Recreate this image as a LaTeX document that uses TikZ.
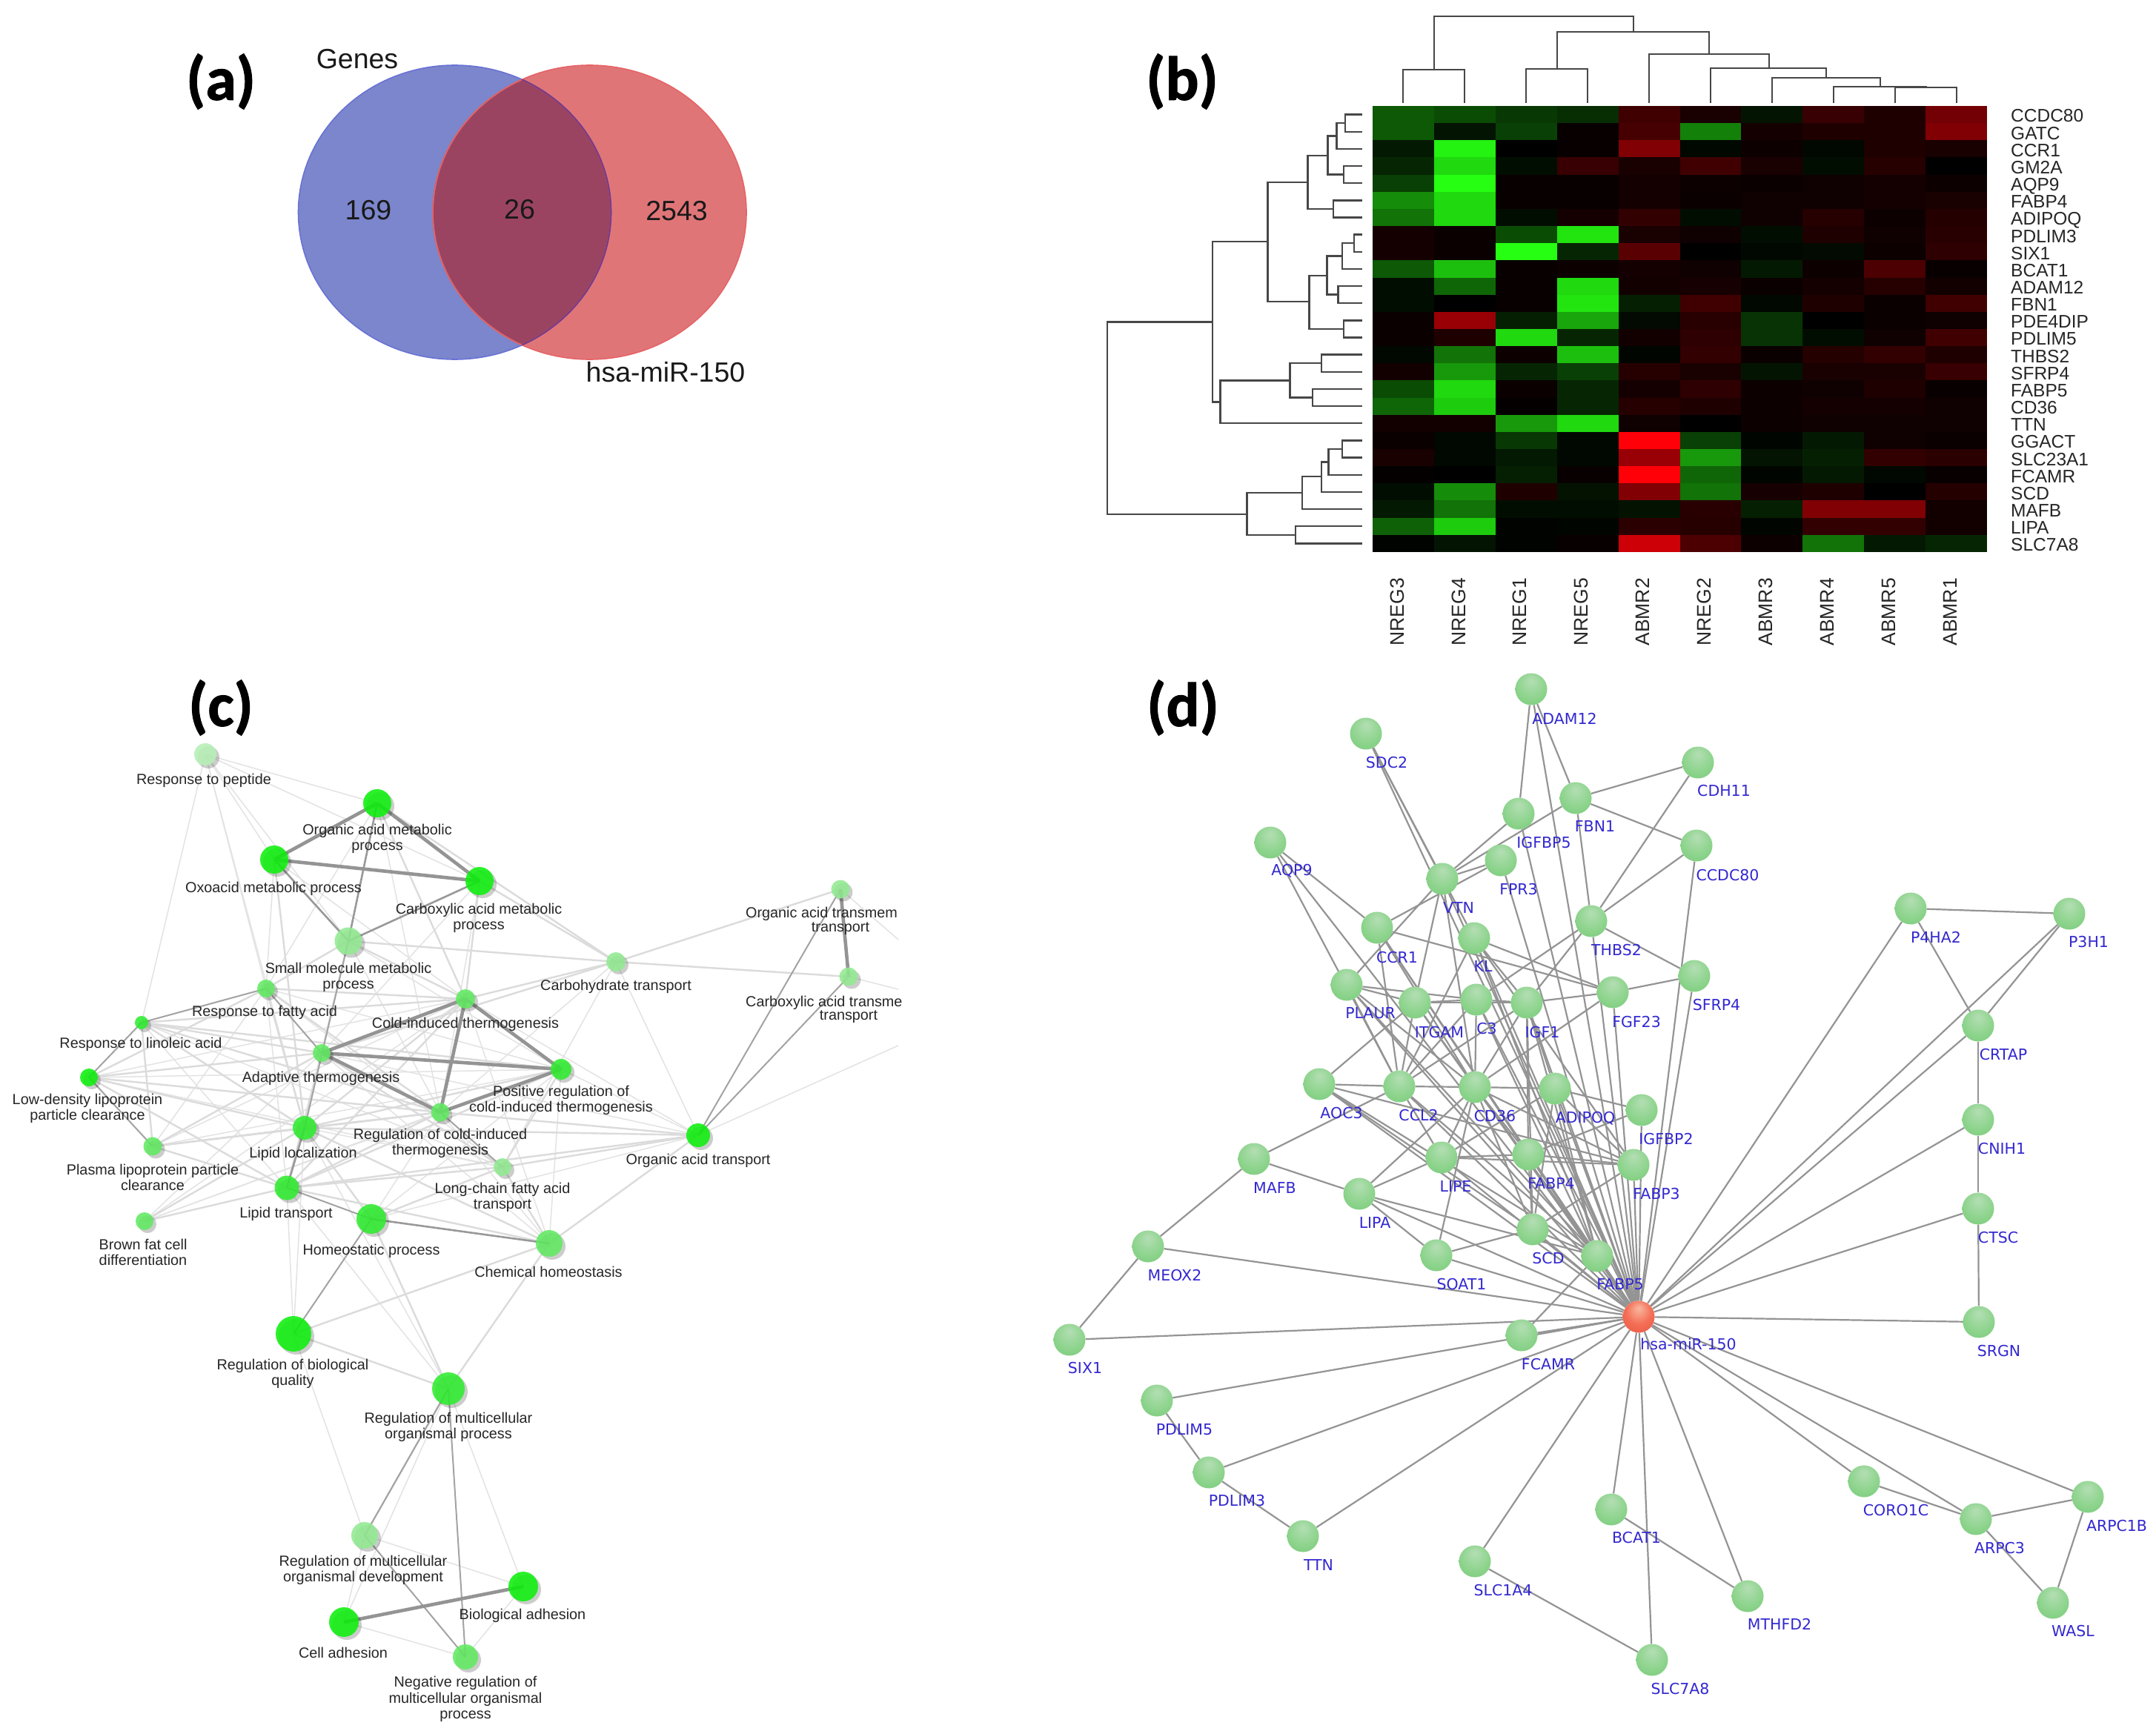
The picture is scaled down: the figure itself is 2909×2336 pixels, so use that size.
\documentclass[tikz,border=0pt]{standalone}
\usepackage{fontspec}
\setmainfont{Liberation Sans}
\newfontfamily\carl{Carlito}[BoldFeatures={FakeBold=1.2}]
\newfontfamily\djv{DejaVu Sans}
\usetikzlibrary{shadows}
\pgfdeclarelayer{bg}
\pgfsetlayers{bg,main}
\definecolor{gA}{HTML}{0EF00E}
\definecolor{gB}{HTML}{30EC30}
\definecolor{gC}{HTML}{62EA62}
\definecolor{gD}{HTML}{92EA92}
\definecolor{gE}{HTML}{B6F0B6}
\definecolor{labelblue}{HTML}{3328D0}
\definecolor{hgreen}{HTML}{26FF12}
\definecolor{hred}{HTML}{FF0008}
\definecolor{bA}{HTML}{B4DEB4}
\definecolor{bB}{HTML}{8ED48E}
\definecolor{bC}{HTML}{74C874}
\definecolor{bD}{HTML}{62B462}
\definecolor{rA}{HTML}{F8B8A0}
\definecolor{rB}{HTML}{F46E55}
\definecolor{rC}{HTML}{E04A3A}
\pgfdeclareradialshading{gball}{\pgfpoint{0bp}{14bp}}{color(0bp)=(bA); color(22bp)=(bB); color(42bp)=(bC); color(50bp)=(bD)}
\pgfdeclareradialshading{rball}{\pgfpoint{0bp}{14bp}}{color(0bp)=(rA); color(20bp)=(rB); color(50bp)=(rC)}
\tikzset{
  ball/.style={circle,inner sep=0pt,minimum size=43pt,shading=gball},
  redball/.style={circle,inner sep=0pt,minimum size=43pt,shading=rball},
  glabel/.style={inner sep=0pt,text=labelblue,font=\djv\fontsize{20.5}{22}\selectfont},
  dedge/.style={draw=black!42,line width=2.2pt},
  cball/.style={circle,inner sep=0pt,fill opacity=.88,drop shadow={shadow xshift=4pt,shadow yshift=-4pt,opacity=.2,fill=black}},
  clabel/.style={inner sep=0pt,align=center,text=black!85,font=\fontsize{19.8}{21.5}\selectfont},
  cfaint/.style={draw=black!11,line width=1.5pt},
  clight/.style={draw=black!14,line width=2.4pt},
  cthin/.style={draw=black!36,line width=2pt},
  cmed/.style={draw=black!40,line width=2.6pt},
  cstrong/.style={draw=black!42,line width=4.6pt},
  dend/.style={draw=black!72,line width=2.4pt},
  collabel/.style={inner sep=0pt,rotate=90,anchor=east,text=black!85,font=\fontsize{26.5}{28}\selectfont},
  rowlabel/.style={inner sep=0pt,anchor=base west,text=black!85,font=\fontsize{24.5}{26}\selectfont},
  vennlabel/.style={inner sep=0pt,text=black!90,font=\fontsize{37.5}{40}\selectfont},
  panel/.style={inner sep=0pt,font=\carl\bfseries\fontsize{84}{90}\selectfont},
}
\newcommand{\gn}[5]{\node[ball] (#1) at (#2,#3) {}; \node[glabel] (#1-l) at (#4,#5) {#1};}
\newcommand{\cn}[8]{\node[cball,minimum size=#4pt,fill=#5] (#1) at (#2,#3) {}; \node[clabel] (#1-l) at (#6,#7) {#8};}
\newcommand{\br}[5]{\draw[dend] (#2,#3) -- (#1,#3) -- (#1,#5) -- (#4,#5);}
\begin{document}
\begin{tikzpicture}[x=1pt,y=-1pt]
\useasboundingbox (0,0) rectangle (2909,2336);
\begin{pgfonlayer}{bg}
\fill[white] (0,0) rectangle (2909,2336);
\end{pgfonlayer}
% panel labels
\node[panel] (pa) at (298,110) {(a)};
\node[panel] (pb) at (1595,110) {(b)};
\node[panel] (pc) at (298,955) {(c)};
\node[panel] (pd) at (1596,955) {(d)};
% ---------- (a)
\definecolor{vb}{HTML}{7B86CC}\definecolor{vr}{HTML}{E07578}\definecolor{vo}{HTML}{9B4462}
\fill[vb] (613.5,286.5) ellipse [x radius=211,y radius=198.5];
\fill[vr] (795.5,286.5) ellipse [x radius=211.5,y radius=198.5];
\begin{scope}
\clip (613.5,286.5) ellipse [x radius=211,y radius=198.5];
\fill[vo] (795.5,286.5) ellipse [x radius=211.5,y radius=198.5];
\draw[line width=1.6pt,draw=vr!85!black] (795.5,286.5) ellipse [x radius=211.5,y radius=198.5];
\end{scope}
\draw[line width=1.6pt,draw=vb!85!blue] (613.5,286.5) ellipse [x radius=211,y radius=198.5];
\draw[line width=1.6pt,draw=vr!85!red] (795.5,286.5) ellipse [x radius=211.5,y radius=198.5];
\begin{scope}
\clip (795.5,286.5) ellipse [x radius=211.5,y radius=198.5];
\draw[line width=1.6pt,draw=vo!80!blue] (613.5,286.5) ellipse [x radius=211,y radius=198.5];
\end{scope}
\node[vennlabel] (genes) at (482,80) {Genes};
\node[vennlabel] (n169) at (497,284) {169};
\node[vennlabel] (n26) at (701,283) {26};
\node[vennlabel] (n2543) at (913,285) {2543};
\node[vennlabel] (mirl) at (898,502) {hsa-miR-150};
% ---------- (b) heat map
\foreach \rowvals [count=\r from 0] in {
 {35,30,22,18,-25,-10,8,-22,-12,-45},
 {35,8,25,-3,-28,50,-8,-12,-12,-50},
 {10,95,0,-3,-50,3,-5,3,-12,-10},
 {15,85,5,-22,-10,-25,-10,5,-15,0},
 {25,100,-3,-3,-8,-5,-4,-6,-8,-5},
 {55,85,-3,-3,-8,-4,-6,-6,-8,-10},
 {45,85,5,-8,-20,5,-6,-15,-5,-14},
 {-8,-4,30,90,-10,-6,5,-12,-6,-16},
 {-8,-4,100,15,-35,0,3,4,-5,-18},
 {35,75,-3,-5,-8,-6,10,-5,-30,-3},
 {5,40,-3,85,-7,-9,-4,-8,-15,-7},
 {5,0,-3,90,12,-25,3,-12,-4,-25},
 {-4,-60,12,65,4,-16,20,0,-4,-6},
 {-4,-12,85,15,-7,-18,20,5,-6,-25},
 {3,45,-5,75,2,-20,-4,-14,-20,-12},
 {-7,60,15,25,-15,-10,8,-10,-10,-22},
 {30,85,-4,15,-8,-18,-5,-6,-12,-3},
 {40,80,-2,15,-15,-12,-5,-8,-8,-6},
 {-7,-7,60,85,-6,0,-5,-6,-6,-6},
 {-4,3,22,3,-100,25,2,10,-6,-4},
 {-10,3,10,3,-60,60,8,12,-20,-17},
 {-2,0,12,-3,-100,40,2,10,3,-3},
 {5,55,-12,7,-50,45,-9,-12,0,-14},
 {10,45,5,5,7,-16,12,-50,-50,-7},
 {38,80,1,2,-17,-15,2,-20,-20,-7},
 {1,8,1,-3,-80,-30,-5,45,10,15}} {
  \foreach \v [count=\c from 0] in \rowvals {
    \pgfmathtruncatemacro\aval{abs(\v)}
    \ifnum\v<0 \colorlet{cellc}{hred!\aval!black}\else \colorlet{cellc}{hgreen!\aval!black}\fi
    \fill[cellc] ({1852+82.9*\c},{143+23.15*\r}) rectangle +(83.2,23.5);
  }
}
% top dendrogram
\draw[dend] (1893,139)--(1893,94)--(1976,94)--(1976,139);
\draw[dend] (2059,139)--(2059,93)--(2142,93)--(2142,139);
\draw[dend] (1935,94)--(1935,22)--(2204,22)--(2204,43);
\draw[dend] (2101,93)--(2101,43)--(2306,43)--(2306,73);
\draw[dend] (2225,139)--(2225,73)--(2387,73)--(2387,92);
\draw[dend] (2308,139)--(2308,92)--(2464,92)--(2464,105);
\draw[dend] (2391,139)--(2391,105)--(2537,105)--(2537,117);
\draw[dend] (2474,139)--(2474,117)--(2599,117)--(2599,118);
\draw[dend] (2557,139)--(2557,118)--(2640,118)--(2640,139);
% left dendrogram
\begin{scope}[shift={(1450,154.575)},x=0.9305pt,y=-23.15pt]
\br{392}{417}{0}{417}{1}
\br{380}{392}{.5}{417}{2}
\br{390}{417}{3}{417}{4}
\br{367}{380}{1.25}{390}{3.5}
\br{375}{417}{5}{417}{6}
\br{338}{367}{2.4}{375}{5.5}
\br{405}{417}{7}{417}{8}
\br{388}{405}{7.5}{417}{9}
\br{382}{417}{10}{417}{11}
\br{366}{388}{8.25}{382}{10.5}
\br{390}{417}{12}{417}{13}
\br{340}{366}{9.4}{390}{12.5}
\br{280}{338}{3.95}{340}{10.9}
\br{358}{417}{14}{417}{15}
\br{345}{417}{16}{417}{17}
\br{312}{358}{14.5}{345}{16.5}
\br{211}{312}{15.5}{417}{18}
\br{200}{280}{7.4}{211}{16.75}
\br{388}{417}{19}{417}{20}
\br{368}{388}{19.5}{417}{21}
\br{358}{368}{20.25}{417}{22}
\br{330}{358}{21.1}{417}{23}
\br{320}{417}{24}{417}{25}
\br{250}{330}{22.05}{320}{24.5}
\br{47}{200}{12.1}{250}{23.3}
\end{scope}
% labels
\foreach \t [count=\i from 0] in {NREG3,NREG4,NREG1,NREG5,ABMR2,NREG2,ABMR3,ABMR4,ABMR5,ABMR1}
  \node[collabel] (col\i) at ({1885+82.9*\i},780) {\t};
\foreach \t [count=\i from 0] in {CCDC80,GATC,CCR1,GM2A,AQP9,FABP4,ADIPOQ,PDLIM3,SIX1,BCAT1,ADAM12,FBN1,PDE4DIP,PDLIM5,THBS2,SFRP4,FABP5,CD36,TTN,GGACT,SLC23A1,FCAMR,SCD,MAFB,LIPA,SLC7A8}
  \node[rowlabel] (row\i) at (2713,{165+23.15*\i}) {\t};
% ---------- (c)
\cn{pep}{277}{1018}{30}{gE}{275}{1053}{Response to peptide}
\cn{oam}{509}{1084}{38}{gA}{509}{1132}{Organic acid metabolic\\process}
\cn{oxo}{370}{1160}{38}{gA}{369}{1199}{Oxoacid metabolic process}
\cn{cam}{647}{1189}{38}{gA}{646}{1239}{Carboxylic acid metabolic\\process}
\cn{smm}{470}{1270}{37}{gD}{470}{1319}{Small molecule metabolic\\process}
\cn{cht}{831}{1298}{26}{gD}{831}{1331}{Carbohydrate transport}
\node[cball,minimum size=25pt,fill=gD] (oat) at (1134,1200) {};
\node[cball,minimum size=25pt,fill=gD] (cat) at (1145,1318) {};
\node[clabel,anchor=west] (oat-a) at (1006,1233) {Organic acid transmem};
\node[clabel] (oat-b) at (1134,1253) {transport};
\node[clabel,anchor=west] (cat-a) at (1006,1353) {Carboxylic acid transme};
\node[clabel] (cat-b) at (1145,1372) {transport};
\cn{rfa}{359}{1334}{24}{gC}{357}{1366}{Response to fatty acid}
\cn{cit}{628}{1348}{26}{gC}{628}{1382}{Cold-induced thermogenesis}
\cn{rla}{191}{1380}{18}{gB}{190}{1409}{Response to linoleic acid}
\cn{adt}{434}{1421}{24}{gC}{433}{1455}{Adaptive thermogenesis}
\cn{pos}{757}{1443}{28}{gB}{757}{1485}{Positive regulation of\\cold-induced thermogenesis}
\cn{ldl}{120}{1454}{24}{gA}{118}{1496}{Low-density lipoprotein\\particle clearance}
\cn{rcl}{594}{1501}{25}{gC}{594}{1543}{Regulation of cold-induced\\thermogenesis}
\cn{lil}{411}{1522}{32}{gB}{409}{1557}{Lipid localization}
\cn{ppc}{206}{1547}{25}{gC}{206}{1589}{Plasma lipoprotein particle\\clearance}
\cn{oatr}{942}{1532}{32}{gA}{942}{1566}{Organic acid transport}
\cn{lcf}{678}{1575}{24}{gD}{678}{1616}{Long-chain fatty acid\\transport}
\cn{ltr}{387}{1603}{33}{gB}{386}{1638}{Lipid transport}
\cn{bfc}{195}{1648}{24}{gC}{193}{1690}{Brown fat cell\\differentiation}
\cn{hom}{501}{1645}{40}{gB}{501}{1688}{Homeostatic process}
\cn{che}{741}{1678}{36}{gC}{740}{1716}{Chemical homeostasis}
\cn{rbq}{396}{1800}{48}{gA}{395}{1854}{Regulation of biological\\quality}
\cn{rmp}{605}{1874}{44}{gB}{605}{1926}{Regulation of multicellular\\organismal process}
\cn{rmd}{492}{2072}{36}{gD}{490}{2119}{Regulation of multicellular\\organismal development}
\cn{bad}{706}{2141}{40}{gA}{705}{2180}{Biological adhesion}
\cn{cad}{464}{2189}{40}{gA}{463}{2230}{Cell adhesion}
\cn{neg}{628}{2236}{34}{gC}{628}{2293}{Negative regulation of\\multicellular organismal\\process}
\coordinate (oatout) at (1212,1268);
\coordinate (catout) at (1212,1335);
\coordinate (oatrout) at (1212,1411);
\begin{pgfonlayer}{bg}
\foreach \a/\b in {pep/rla,pep/rfa,pep/lil,pep/oam,pep/oxo,pep/smm,pep/cam,rbq/ltr,rbq/lil,rmd/bad,rmd/cad,cad/neg,bad/neg,rbq/rmd,rmp/bad,rmp/cad,rmp/lil,rmp/ltr,oatr/oatrout,cat/catout,oat/oatout,
 oxo/cit,oam/rfa,oxo/rfa,cam/adt,cam/rcl,oam/rcl,smm/rcl,smm/pos,cht/rcl,cht/oatr,cht/lcf,rfa/pos,rla/lcf,rfa/lcf,ldl/cit,ldl/pos,ldl/lcf,ppc/cit,ppc/pos,bfc/adt,bfc/cit,bfc/pos,bfc/rcl,adt/oatr,cit/oatr,pos/oatr,hom/oatr,lil/lcf,hom/rcl,hom/pos,rla/ltr,rfa/ppc,rfa/ltr,che/cit,che/pos,che/adt,che/lil,che/rcl}
  \draw[cfaint] (\a.center) -- (\b.center);
\foreach \a/\b in {oam/cht,cam/cht,smm/cht,cht/oat,cht/cat,cht/cit,cht/adt,oam/cit,smm/cit,cam/cit,smm/rfa,smm/adt,oxo/lil,
 rfa/cit,rfa/rcl,rfa/lil,rla/cit,rla/adt,rla/pos,rla/rcl,rla/lil,rla/ppc,ldl/rfa,ldl/adt,ldl/rcl,ldl/lil,ldl/ltr,ppc/lil,ppc/rcl,ppc/adt,ppc/ltr,bfc/lil,bfc/ltr,lil/adt,lil/cit,lil/pos,lil/oatr,lil/hom,lil/che,ltr/adt,ltr/cit,ltr/pos,ltr/rcl,ltr/lcf,ltr/che,che/oatr,che/lcf,hom/lcf,lcf/oatr,lcf/pos,lcf/adt,rcl/oatr,rmp/hom,rmp/che,rbq/che,rbq/rmp,rmd/rmp,ltr/oatr,lil/rcl}
  \draw[clight] (\a.center) -- (\b.center);
\foreach \a/\b in {rfa/rla,rfa/adt,ldl/rla,ldl/ppc,oatr/oat,oatr/cat,smm/lil,hom/rbq,rmp/rmd,rmp/neg,rmd/neg,rcl/lcf,ltr/hom}
  \draw[cthin] (\a.center) -- (\b.center);
\foreach \a/\b in {oam/smm,oxo/smm,cam/smm,lil/ltr,hom/che}
  \draw[cmed] (\a.center) -- (\b.center);
\foreach \a/\b in {oam/oxo,oam/cam,oxo/cam,cit/adt,cit/pos,adt/pos,cit/rcl,adt/rcl,pos/rcl,oat/cat,cad/bad}
  \draw[cstrong] (\a.center) -- (\b.center);
\end{pgfonlayer}
% ---------- (d)
\gn{ADAM12}{2066}{930}{2111}{970}
\gn{SDC2}{1843}{990}{1871}{1029}
\gn{AQP9}{1714}{1137}{1743}{1175}
\gn{CDH11}{2291}{1029}{2326}{1067}
\gn{CCDC80}{2289}{1141}{2331}{1181}
\gn{FBN1}{2126}{1077}{2152}{1115}
\gn{IGFBP5}{2049}{1098}{2083}{1137}
\gn{FPR3}{2025}{1161}{2049}{1200}
\gn{VTN}{1946}{1186}{1968}{1225}
\gn{THBS2}{2147}{1243}{2181}{1282}
\gn{CCR1}{1858}{1252}{1885}{1292}
\gn{KL}{1989}{1266}{2001}{1304}
\gn{SFRP4}{2286}{1317}{2316}{1356}
\gn{FGF23}{2176}{1339}{2208}{1379}
\gn{PLAUR}{1817}{1329}{1849}{1367}
\gn{ITGAM}{1909}{1353}{1942}{1393}
\gn{C3}{1992}{1349}{2006}{1388}
\gn{IGF1}{2060}{1353}{2081}{1393}
\gn{AOC3}{1780}{1463}{1810}{1502}
\gn{CCL2}{1888}{1466}{1914}{1505}
\gn{CD36}{1990}{1467}{2017}{1506}
\gn{ADIPOQ}{2098}{1469}{2139}{1509}
\gn{IGFBP2}{2215}{1498}{2248}{1537}
\gn{MAFB}{1692}{1564}{1720}{1603}
\gn{LIPE}{1945}{1562}{1964}{1601}
\gn{FABP4}{2062}{1558}{2093}{1597}
\gn{FABP3}{2204}{1572}{2235}{1611}
\gn{LIPA}{1834}{1611}{1855}{1650}
\gn{SCD}{2068}{1659}{2089}{1698}
\gn{FABP5}{2155}{1695}{2186}{1733}
\gn{SOAT1}{1938}{1694}{1972}{1733}
\gn{MEOX2}{1549}{1682}{1585}{1721}
\gn{SIX1}{1443}{1808}{1464}{1846}
\gn{FCAMR}{2053}{1802}{2089}{1841}
\gn{SRGN}{2670}{1784}{2697}{1823}
\gn{PDLIM5}{1561}{1890}{1598}{1929}
\gn{PDLIM3}{1631}{1987}{1669}{2025}
\gn{TTN}{1758}{2073}{1779}{2112}
\gn{SLC1A4}{1990}{2107}{2028}{2146}
\gn{BCAT1}{2174}{2037}{2208}{2075}
\gn{MTHFD2}{2358}{2154}{2401}{2192}
\gn{SLC7A8}{2229}{2240}{2267}{2279}
\gn{CORO1C}{2515}{1999}{2558}{2038}
\gn{ARPC3}{2666}{2050}{2698}{2089}
\gn{ARPC1B}{2817}{2020}{2856}{2059}
\gn{WASL}{2770}{2163}{2797}{2201}
\gn{P4HA2}{2578}{1226}{2612}{1265}
\gn{P3H1}{2792}{1233}{2818}{1271}
\gn{CRTAP}{2669}{1384}{2703}{1423}
\gn{CNIH1}{2669}{1511}{2701}{1550}
\gn{CTSC}{2669}{1631}{2696}{1670}
\node[redball] (mir) at (2211,1777) {};
\node[glabel] (mir-l) at (2278,1814) {hsa-miR-150};
\begin{pgfonlayer}{bg}
\foreach \a in {ADAM12,SDC2,AQP9,CCDC80,IGFBP5,FPR3,VTN,THBS2,CCR1,KL,SFRP4,FGF23,PLAUR,ITGAM,C3,IGF1,AOC3,CCL2,CD36,ADIPOQ,IGFBP2,LIPE,FABP4,FABP3,LIPA,SCD,FABP5,SOAT1,MEOX2,SIX1,FCAMR,SRGN,PDLIM5,PDLIM3,TTN,SLC1A4,BCAT1,MTHFD2,SLC7A8,CORO1C,ARPC3,ARPC1B,P4HA2,P3H1,CRTAP,CNIH1,CTSC}
  \draw[dedge] (\a) -- (mir);
\foreach \a/\b in {ADAM12/IGFBP5,ADAM12/FBN1,FBN1/CDH11,FBN1/CCDC80,FBN1/THBS2,FBN1/VTN,CDH11/THBS2,CCDC80/THBS2,IGFBP5/VTN,FPR3/VTN,FPR3/CCR1,VTN/PLAUR,SDC2/VTN,SDC2/KL,AQP9/CCR1,AQP9/CCL2,CCR1/CCL2,CCR1/FGF23,CCR1/CD36,VTN/ITGAM,VTN/CD36,THBS2/SFRP4,THBS2/IGF1,THBS2/C3,SFRP4/FGF23,FGF23/IGF1,FGF23/CD36,KL/IGF1,KL/FGF23,KL/CCL2,PLAUR/ITGAM,PLAUR/C3,PLAUR/CCL2,PLAUR/CD36,ITGAM/C3,ITGAM/IGF1,ITGAM/CCL2,ITGAM/CD36,C3/IGF1,C3/CD36,C3/CCL2,IGF1/CD36,IGF1/ADIPOQ,IGF1/FABP4,IGF1/CCL2,AOC3/CCL2,AOC3/ITGAM,AOC3/FABP3,MAFB/CCL2,MAFB/LIPA,MAFB/MEOX2,MEOX2/SIX1,CCL2/CD36,CCL2/LIPE,CD36/ADIPOQ,CD36/FABP4,CD36/LIPE,CD36/SOAT1,CD36/LIPA,CD36/FABP3,ADIPOQ/FABP3,ADIPOQ/LIPE,ADIPOQ/IGFBP2,LIPE/FABP4,LIPE/FABP3,FABP4/FABP3,FABP4/SCD,FABP4/FABP5,LIPE/LIPA,LIPA/SOAT1,SOAT1/SCD,SCD/FABP3,SCD/FABP5,IGFBP2/FABP4,FCAMR/FABP5,P4HA2/P3H1,P4HA2/CRTAP,P3H1/CRTAP,CRTAP/CNIH1,CNIH1/CTSC,CTSC/SRGN,PDLIM5/PDLIM3,PDLIM3/TTN,SLC1A4/SLC7A8,BCAT1/MTHFD2,CORO1C/ARPC3,ARPC3/ARPC1B,ARPC3/WASL,ARPC1B/WASL,
 PLAUR/FABP5,AOC3/FABP5,AOC3/SCD,LIPA/FABP5,ITGAM/FABP5,CCL2/FABP5,CD36/FABP5,C3/FABP5,KL/FABP5,IGF1/FABP5,KL/FABP3,CD36/SCD,IGF1/SCD,ADIPOQ/FABP5,ADIPOQ/SCD,CCR1/FABP4}
  \draw[dedge] (\a) -- (\b);
\end{pgfonlayer}
\end{tikzpicture}
\end{document}
